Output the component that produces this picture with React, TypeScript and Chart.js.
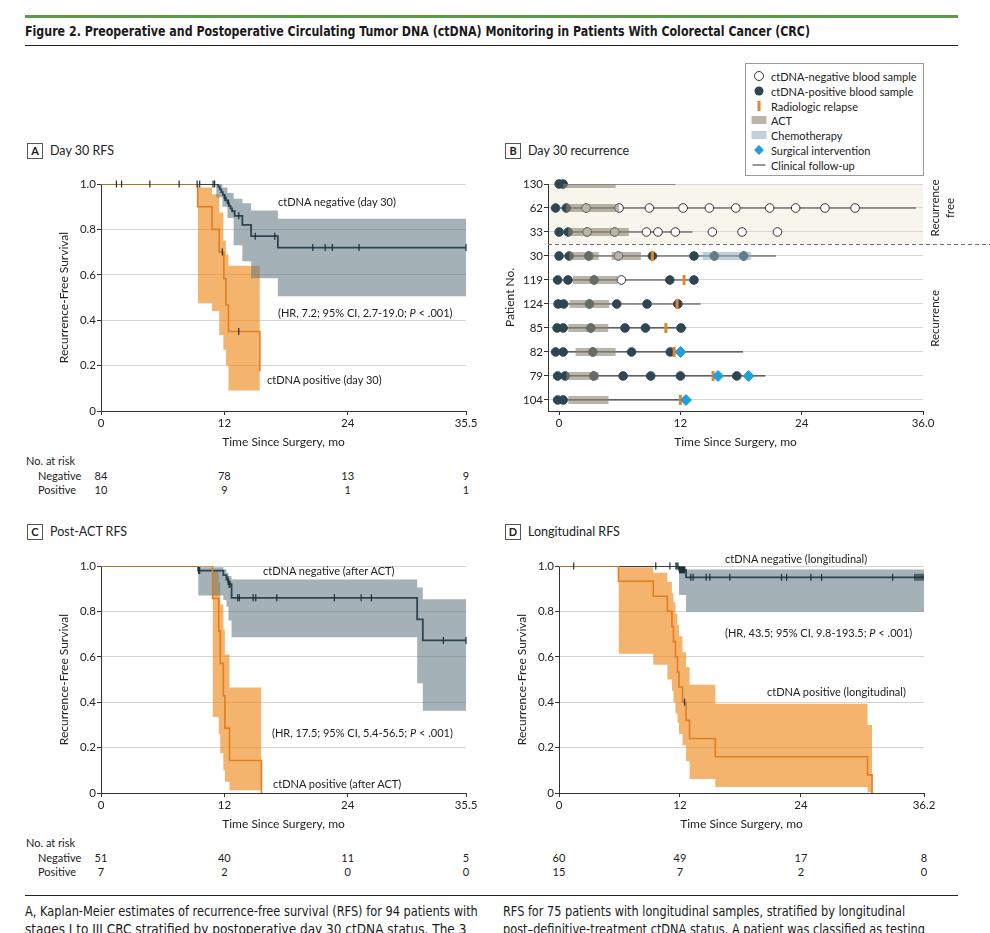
import React, { useEffect, useLayoutEffect, useRef } from 'react';
import { Chart, registerables } from 'chart.js';

Chart.register(...registerables);

const SANS = 'Lato, "Noto Sans", sans-serif';
const NARROW = '"Liberation Sans Narrow", "DejaVu Sans Condensed", sans-serif';
const INK = '#222222';
const AXIS = '#333333';
const NEG_LINE = '#2c4550';
const POS_LINE = '#e07f1f';
const NEG_BAND = 'rgba(90,115,125,0.55)';
const POS_BAND = 'rgba(240,140,30,0.65)';
const CENSOR = '#1f2f36';

Chart.defaults.font.family = SANS;
Chart.defaults.color = INK;

// ---------- Panel A: day 30 RFS ----------
const aNegTime = [0, 11.4, 11.55, 11.7, 11.85, 12.0, 12.15, 12.3, 12.45, 12.6, 12.75, 13.0, 13.75, 14.6, 17.2, 35.5];
const aNegSurv = [1, 0.988, 0.976, 0.964, 0.952, 0.94, 0.928, 0.916, 0.904, 0.892, 0.88, 0.86, 0.82, 0.77, 0.72, 0.72];
const aNegCensor = [1.5, 2.0, 4.75, 7.6, 9.35, 9.6, 10.9, 11.05, 12.05, 12.4, 13.4, 15.0, 16.9, 20.6, 21.8, 22.5, 25.1, 35.5];
const aNegBandTime = [11.2, 11.8, 12.3, 12.9, 13.75, 14.6, 17.2, 35.5];
const aNegUpper = [1.0, 0.985, 0.96, 0.935, 0.915, 0.883, 0.847, 0.847];
const aNegLower = [0.94, 0.9, 0.85, 0.73, 0.66, 0.585, 0.505, 0.505];
const aPosTime = [0, 9.4, 10.8, 11.5, 11.95, 12.15, 12.4, 15.45];
const aPosSurv = [1, 0.9, 0.8, 0.7, 0.583, 0.467, 0.35, 0.175];
const aPosCensor = [11.8, 13.4];
const aPosBandTime = [9.4, 10.8, 11.5, 11.9, 12.15, 12.4, 15.45];
const aPosUpper = [0.985, 0.955, 0.875, 0.75, 0.69, 0.64, 0.64];
const aPosLower = [0.475, 0.44, 0.335, 0.27, 0.2, 0.09, 0.09];
const aXTicks = [0, 12, 24, 35.5];
const aXLabels = ['0', '12', '24', '35.5'];
const aRiskNeg = [84, 78, 13, 9];
const aRiskPos = [10, 9, 1, 1];

// ---------- Panel C: post-ACT RFS ----------
const cNegTime = [0, 9.45, 11.9, 12.2, 12.4, 12.7, 30.75, 31.3, 35.5];
const cNegSurv = [1, 0.98, 0.96, 0.94, 0.92, 0.86, 0.765, 0.672, 0.672];
const cNegCensor = [9.5, 9.6, 12.35, 12.45, 12.55, 13.3, 13.45, 14.8, 15.05, 17.1, 22.7, 25.3, 26.3, 33.3, 35.5];
const cNegBandTime = [9.45, 11.9, 12.2, 12.4, 12.7, 30.75, 31.3, 35.5];
const cNegUpper = [0.995, 0.985, 0.97, 0.955, 0.94, 0.905, 0.853, 0.853];
const cNegLower = [0.87, 0.85, 0.82, 0.76, 0.686, 0.484, 0.362, 0.362];
const cPosTime = [0, 10.85, 11.45, 11.6, 11.9, 12.05, 12.5, 15.6];
const cPosSurv = [1, 0.857, 0.714, 0.571, 0.429, 0.286, 0.143, 0];
const cPosCensor: number[] = [];
const cPosBandTime = [10.85, 11.45, 11.6, 11.9, 12.05, 12.5, 15.6];
const cPosUpper = [0.98, 0.93, 0.83, 0.72, 0.61, 0.465, 0.465];
const cPosLower = [0.335, 0.26, 0.175, 0.1, 0.05, 0.012, 0.012];
const cXTicks = [0, 12, 24, 35.5];
const cXLabels = ['0', '12', '24', '35.5'];
const cRiskNeg = [51, 40, 11, 5];
const cRiskPos = [7, 2, 0, 0];

// ---------- Panel D: longitudinal RFS ----------
const dNegTime = [0, 11.9, 12.6, 36.2];
const dNegSurv = [1, 0.983, 0.95, 0.95];
const dNegCensor = [1.46, 9.6, 11.0, 11.6, 11.7, 11.8, 11.95, 12.05, 12.15, 12.25, 12.35, 12.45, 13.07, 13.3, 14.6, 14.96, 16.94, 22.07, 22.57, 24.98, 26.04, 33.09, 35.3, 35.5, 35.7, 35.9, 36.1];
const dNegBandTime = [11.9, 12.6, 36.2];
const dNegUpper = [0.998, 0.985, 0.985];
const dNegLower = [0.872, 0.798, 0.798];
const dPosTime = [0, 5.9, 9.35, 10.75, 11.2, 11.35, 11.55, 11.75, 11.9, 12.25, 12.6, 12.95, 15.5, 30.6, 31.05];
const dPosSurv = [1, 0.933, 0.867, 0.8, 0.733, 0.667, 0.6, 0.533, 0.467, 0.4, 0.32, 0.24, 0.16, 0.08, 0];
const dPosCensor = [12.45];
const dPosBandTime = [5.9, 9.35, 10.75, 11.2, 11.35, 11.55, 11.75, 11.9, 12.25, 12.6, 12.95, 15.5, 30.6, 31.05];
const dPosUpper = [0.995, 0.97, 0.93, 0.88, 0.84, 0.79, 0.74, 0.69, 0.62, 0.555, 0.477, 0.393, 0.3, 0.3];
const dPosLower = [0.613, 0.565, 0.5, 0.45, 0.4, 0.35, 0.31, 0.26, 0.21, 0.14, 0.062, 0.026, 0.003, 0.003];
const dXTicks = [0, 12, 24, 36.2];
const dXLabels = ['0', '12', '24', '36.2'];
const dRiskNeg = [60, 49, 17, 8];
const dRiskPos = [15, 7, 2, 0];

const yTicks = [0, 0.2, 0.4, 0.6, 0.8, 1.0];
const yLabels = ['0', '0.2', '0.4', '0.6', '0.8', '1.0'];

// ---------- Panel B: day 30 recurrence swimmer plot ----------
const patientIds = ['130', '62', '33', '30', '119', '124', '85', '82', '79', '104'];
const followStart = [0, -0.35, 0, 0, -0.15, -0.1, -0.2, -0.35, -0.15, -0.15];
const followEnd = [11.5, 35.3, 13.2, 21.45, 13.35, 14.0, 12.6, 18.2, 20.4, 12.0];
const posSamples = [
  [0, 0.4],
  [-0.35, 0.72],
  [0, 0.9],
  [0, 1.0, 2.93, 9.23, 13.34, 15.36, 18.26],
  [-0.15, 0.88, 3.46, 10.95, 13.34],
  [-0.1, 0.45, 3.0, 5.7, 8.7, 11.75],
  [-0.2, 0.4, 3.13, 6.52, 8.54, 12.06],
  [-0.35, 0.4, 3.33, 7.17, 11.0],
  [-0.15, 0.6, 3.42, 6.33, 9.06, 12.0, 17.57],
  [-0.15, 0.4],
];
const negSamples = [
  [],
  [2.67, 5.93, 8.93, 12.26, 14.87, 17.48, 20.83, 23.4, 26.3, 29.28],
  [2.77, 5.5, 8.64, 9.78, 11.5, 15.16, 18.1, 21.6],
  [5.87],
  [6.16],
  [], [], [], [], [],
];
const actCourses = [
  [[0.4, 5.6]],
  [[0.7, 5.93]],
  [[0.9, 6.9]],
  [[1.0, 3.9], [5.2, 8.1]],
  [[1.37, 5.84]],
  [[1.04, 4.96]],
  [[0.91, 4.86]],
  [[1.63, 5.6]],
  [[0.72, 3.91]],
  [[0.91, 4.89]],
];
const chemoCourses = [[], [], [], [[14.18, 18.98]], [], [], [], [], [], []];
const relapseTimes = [[], [], [], [9.23], [12.36], [11.67], [10.56], [11.38], [15.23], [12.0]];
const surgeryTimes = [[], [], [], [], [], [], [], [12.0], [15.72, 18.75], [12.55]];
const bXTicks = [0, 12, 24, 36];
const bXLabels = ['0', '12', '24', '36.0'];

// ---------- helpers ----------
const xy = (t: number[], v: number[]) => t.map((x, i) => ({ x, y: v[i] }));
const stepAt = (t: number[], v: number[], x: number) => {
  let y = v[0];
  for (let i = 0; i < t.length; i++) if (t[i] <= x) y = v[i];
  return y;
};

type KM = {
  negTime: number[]; negSurv: number[]; negCensor: number[];
  negBandTime: number[]; negUpper: number[]; negLower: number[];
  posTime: number[]; posSurv: number[]; posCensor: number[];
  posBandTime: number[]; posUpper: number[]; posLower: number[];
  xMax: number; xTicks: number[]; xLabels: string[]; rightPad: number;
};

const tickFont = { family: SANS, size: 11.5 };
const titleFont = { family: SANS, size: 12 };

function kmConfig(k: KM): any {
  const censor = (color: string) => ({
    type: 'line', showLine: false, pointStyle: 'line', pointRotation: 90,
    pointRadius: 3.5, pointBorderWidth: 1.2, pointBorderColor: color, clip: false,
  });
  const band = (color: string) => ({
    type: 'line', stepped: true, pointRadius: 0, borderWidth: 0,
    borderColor: 'rgba(0,0,0,0)', backgroundColor: color,
  });
  return {
    type: 'line',
    data: {
      datasets: [
        { ...censor(CENSOR), order: 0, data: k.posCensor.map((x) => ({ x, y: stepAt(k.posTime, k.posSurv, x) })) },
        { ...censor(CENSOR), order: 1, data: k.negCensor.map((x) => ({ x, y: stepAt(k.negTime, k.negSurv, x) })) },
        { type: 'line', order: 2, stepped: true, pointRadius: 0, borderWidth: 1.6, borderColor: POS_LINE, fill: false, data: xy(k.posTime, k.posSurv) },
        { type: 'line', order: 3, stepped: true, pointRadius: 0, borderWidth: 1.8, borderColor: NEG_LINE, fill: false, data: xy(k.negTime, k.negSurv) },
        { ...band(NEG_BAND), order: 4, fill: '+1', data: xy(k.negBandTime, k.negUpper) },
        { ...band(NEG_BAND), order: 5, fill: false, data: xy(k.negBandTime, k.negLower) },
        { ...band(POS_BAND), order: 6, fill: '+1', data: xy(k.posBandTime, k.posUpper) },
        { ...band(POS_BAND), order: 7, fill: false, data: xy(k.posBandTime, k.posLower) },
      ],
    },
    options: {
      responsive: false, animation: false, devicePixelRatio: 1, events: [],
      layout: { padding: { top: 14, right: k.rightPad, left: 0, bottom: 0 } },
      plugins: { legend: { display: false }, tooltip: { enabled: false } },
      scales: {
        x: {
          type: 'linear', min: 0, max: k.xMax,
          afterBuildTicks: (s: any) => { s.ticks = k.xTicks.map((value) => ({ value })); },
          afterFit: (s: any) => { s.height = 39; },
          ticks: { callback: (_v: any, i: number) => k.xLabels[i], font: tickFont, color: INK, padding: 1, maxRotation: 0, autoSkip: false },
          grid: { drawOnChartArea: false, drawTicks: true, tickLength: 4, tickColor: AXIS },
          border: { display: true, color: AXIS, width: 1 },
          title: { display: true, text: 'Time Since Surgery, mo', font: titleFont, color: INK, padding: { top: 0, bottom: 1 } },
        },
        y: {
          type: 'linear', min: 0, max: 1,
          afterBuildTicks: (s: any) => { s.ticks = yTicks.map((value) => ({ value })); },
          afterFit: (s: any) => { s.width = 81; },
          ticks: { callback: (_v: any, i: number) => yLabels[i], font: tickFont, color: INK, padding: 1 },
          grid: { color: '#d4d4d4', lineWidth: 1, drawTicks: true, tickLength: 4, tickColor: AXIS },
          border: { display: true, color: AXIS, width: 1 },
          title: { display: true, text: 'Recurrence-Free Survival', font: titleFont, color: INK, padding: { top: 37, bottom: 0 } },
        },
      },
    },
  };
}

const rowLines = (starts: number[], ends: number[]) =>
  starts.flatMap((s, row) => [{ x: s, y: row }, { x: ends[row], y: row }, { x: ends[row], y: null }]);
const courseLines = (courses: number[][][]) =>
  courses.flatMap((list, row) => list.flatMap(([a, b]) => [{ x: a, y: row }, { x: b, y: row }, { x: b, y: null }]));
const marks = (lists: number[][]) => lists.flatMap((list, row) => list.map((x) => ({ x, y: row })));

const swimmerZones = {
  id: 'swimmerZones',
  beforeDraw(chart: any) {
    const { ctx, chartArea, scales } = chart;
    const yCut = scales.y.getPixelForValue(2.5);
    ctx.save();
    ctx.fillStyle = '#f7f5ec';
    ctx.fillRect(chartArea.left, chartArea.top, chartArea.right - chartArea.left, yCut - chartArea.top);
    ctx.restore();
  },
  beforeDatasetsDraw(chart: any) {
    const { ctx, chartArea, scales, width } = chart;
    const yCut = Math.round(scales.y.getPixelForValue(2.5)) + 0.5;
    ctx.save();
    ctx.strokeStyle = '#6f6f6f';
    ctx.lineWidth = 1;
    ctx.setLineDash([4, 3]);
    ctx.beginPath();
    ctx.moveTo(chartArea.left, yCut);
    ctx.lineTo(width, yCut);
    ctx.stroke();
    ctx.restore();
  },
  afterDraw(chart: any) {
    const { ctx, chartArea, scales } = chart;
    const put = (text: string, x: number, y: number) => {
      ctx.save();
      ctx.translate(x, y);
      ctx.rotate(-Math.PI / 2);
      ctx.textAlign = 'center';
      ctx.textBaseline = 'middle';
      ctx.fillStyle = INK;
      ctx.font = `11.5px ${SANS}`;
      ctx.fillText(text, 0, 0);
      ctx.restore();
    };
    put('Recurrence', chartArea.right + 12, scales.y.getPixelForValue(1));
    put('free', chartArea.right + 27, scales.y.getPixelForValue(1));
    put('Recurrence', chartArea.right + 12, scales.y.getPixelForValue(5.6));
  },
};

function swimmerConfig(): any {
  return {
    type: 'line',
    data: {
      datasets: [
        { order: 0, showLine: false, clip: false, pointStyle: 'rectRot', pointRadius: 5.5, pointBackgroundColor: '#1fa0da', pointBorderColor: '#1fa0da', pointBorderWidth: 1, data: marks(surgeryTimes) },
        { order: 1, showLine: false, clip: false, pointStyle: 'line', pointRotation: 90, pointRadius: 5, pointBorderWidth: 3, pointBorderColor: '#e0872b', data: marks(relapseTimes) },
        { order: 2, pointRadius: 0, borderWidth: 8, borderCapStyle: 'butt', borderColor: 'rgba(140,170,190,0.55)', spanGaps: false, data: courseLines(chemoCourses) },
        { order: 3, pointRadius: 0, borderWidth: 8, borderCapStyle: 'butt', borderColor: 'rgba(140,132,115,0.6)', spanGaps: false, data: courseLines(actCourses) },
        { order: 4, showLine: false, clip: false, pointStyle: 'circle', pointRadius: 4.3, pointBackgroundColor: '#ffffff', pointBorderColor: '#333333', pointBorderWidth: 1, data: marks(negSamples) },
        { order: 5, showLine: false, clip: false, pointStyle: 'circle', pointRadius: 4.3, pointBackgroundColor: '#2e4652', pointBorderColor: '#2e4652', pointBorderWidth: 1, data: marks(posSamples) },
        { order: 6, pointRadius: 0, borderWidth: 1.2, borderColor: '#3a3a3a', spanGaps: false, data: rowLines(followStart, followEnd) },
      ],
    },
    options: {
      responsive: false, animation: false, devicePixelRatio: 1, events: [],
      layout: { padding: { top: 14, right: 67, left: 0, bottom: 0 } },
      plugins: { legend: { display: false }, tooltip: { enabled: false } },
      scales: {
        x: {
          type: 'linear', min: -1.1, max: 36,
          afterBuildTicks: (s: any) => { s.ticks = bXTicks.map((value) => ({ value })); },
          afterFit: (s: any) => { s.height = 39; },
          ticks: { callback: (_v: any, i: number) => bXLabels[i], font: tickFont, color: INK, padding: 1, maxRotation: 0, autoSkip: false },
          grid: { drawOnChartArea: false, drawTicks: true, tickLength: 4, tickColor: AXIS },
          border: { display: true, color: AXIS, width: 1 },
          title: { display: true, text: 'Time Since Surgery, mo', font: titleFont, color: INK, padding: { top: 0, bottom: 1 } },
        },
        y: {
          type: 'linear', min: 0, max: 9.46, reverse: true,
          afterBuildTicks: (s: any) => { s.ticks = patientIds.map((_p, i) => ({ value: i })); },
          afterFit: (s: any) => { s.width = 70; },
          ticks: { callback: (_v: any, i: number) => patientIds[i], font: tickFont, color: INK, padding: 1 },
          grid: { color: '#d8d8d8', lineWidth: 1, drawTicks: true, tickLength: 4, tickColor: AXIS },
          border: { display: true, color: AXIS, width: 1 },
          title: { display: true, text: 'Patient No.', font: titleFont, color: INK, padding: { top: 25, bottom: 0 } },
        },
      },
    },
    plugins: [swimmerZones],
  };
}

function ChartCanvas({ left, top, width, height, make }: { left: number; top: number; width: number; height: number; make: () => any }) {
  const ref = useRef<HTMLCanvasElement>(null);
  useEffect(() => {
    const chart = new Chart(ref.current as HTMLCanvasElement, make());
    return () => chart.destroy();
  }, []);
  return <canvas ref={ref} width={width} height={height} style={{ position: 'absolute', left, top, width, height }} />;
}

const text = (s: React.CSSProperties = {}): React.CSSProperties => ({
  position: 'absolute', whiteSpace: 'nowrap', fontFamily: SANS, color: INK, lineHeight: 1, ...s,
});

// A single line of condensed text squeezed horizontally to a set width.
function FitLine({ left, y, width, size, weight = 400, children }: { left: number; y: number; width: number; size: number; weight?: number; children: React.ReactNode }) {
  const ref = useRef<HTMLDivElement>(null);
  useLayoutEffect(() => {
    const el = ref.current;
    if (!el) return;
    const w = el.scrollWidth;
    const k = w > 0 ? width / w : 1;
    el.style.transform = `translateY(-50%) scaleX(${k})`;
  }, []);
  return (
    <div ref={ref} style={text({ left, top: y, transform: 'translateY(-50%)', transformOrigin: 'left center', fontFamily: NARROW, fontSize: size, fontWeight: weight, color: '#1a1a1a' })}>
      {children}
    </div>
  );
}

function PanelTag({ left, top, letter, title }: { left: number; top: number; letter: string; title: string }) {
  return (
    <>
      <div style={{ position: 'absolute', left, top, width: 14, height: 14, border: '1px solid #555', fontFamily: SANS, fontWeight: 700, fontSize: 11, lineHeight: '14px', textAlign: 'center', color: INK }}>{letter}</div>
      <div style={text({ left: left + 23, top: top + 8, transform: 'translateY(-50%)', fontSize: 12.5 })}>{title}</div>
    </>
  );
}

function Note({ left, y, children, size = 11 }: { left: number; y: number; children: React.ReactNode; size?: number }) {
  return <div style={text({ left, top: y, transform: 'translateY(-50%)', fontSize: size })}>{children}</div>;
}

function RiskTable({ x0, x1, xMax, ticks, neg, pos, y, showHead }: { x0: number; x1: number; xMax: number; ticks: number[]; neg: number[]; pos: number[]; y: number; showHead: boolean }) {
  const px = (t: number) => x0 + (t / xMax) * (x1 - x0);
  return (
    <>
      {showHead && <Note left={26} y={y - 15}>{'No. at risk'}</Note>}
      {showHead && <Note left={38} y={y}>Negative</Note>}
      {showHead && <Note left={38} y={y + 14}>Positive</Note>}
      {ticks.map((t, i) => (
        <React.Fragment key={i}>
          <div style={text({ left: px(t), top: y, transform: 'translate(-50%,-50%)', fontSize: 11 })}>{neg[i]}</div>
          <div style={text({ left: px(t), top: y + 14, transform: 'translate(-50%,-50%)', fontSize: 11 })}>{pos[i]}</div>
        </React.Fragment>
      ))}
    </>
  );
}

function LegendGlyph({ kind }: { kind: string }) {
  const base: React.CSSProperties = { position: 'absolute', left: '50%', top: '50%', transform: 'translate(-50%,-50%)' };
  if (kind === 'neg') return <span style={{ ...base, width: 8, height: 8, borderRadius: '50%', border: '1px solid #333', background: '#fff' }} />;
  if (kind === 'pos') return <span style={{ ...base, width: 9, height: 9, borderRadius: '50%', background: '#2e4652' }} />;
  if (kind === 'relapse') return <span style={{ ...base, width: 3, height: 10, background: '#e0872b' }} />;
  if (kind === 'act') return <span style={{ ...base, width: 15, height: 8, background: 'rgb(186,181,171)' }} />;
  if (kind === 'chemo') return <span style={{ ...base, width: 15, height: 8, background: 'rgb(192,208,219)' }} />;
  if (kind === 'surgery') return <span style={{ ...base, width: 7, height: 7, background: '#1fa0da', transform: 'translate(-50%,-50%) rotate(45deg)' }} />;
  return <span style={{ ...base, width: 13, height: 1, background: '#333' }} />;
}

const legendItems = [
  ['neg', 'ctDNA-negative blood sample'],
  ['pos', 'ctDNA-positive blood sample'],
  ['relapse', 'Radiologic relapse'],
  ['act', 'ACT'],
  ['chemo', 'Chemotherapy'],
  ['surgery', 'Surgical intervention'],
  ['line', 'Clinical follow-up'],
];

function Legend() {
  return (
    <div style={{ position: 'absolute', left: 745, top: 63, width: 177, height: 111, border: '1px solid #9a9a9a', background: '#fff' }}>
      {legendItems.map(([kind, label], i) => (
        <div key={kind} style={{ position: 'absolute', left: 0, top: 12 + i * 14.8, width: 177 }}>
          <div style={{ position: 'absolute', left: 5, top: -7, width: 16, height: 14 }}><LegendGlyph kind={kind} /></div>
          <div style={text({ left: 25, top: 0, transform: 'translateY(-50%)', fontSize: 11 })}>{label}</div>
        </div>
      ))}
    </div>
  );
}

const captionLeft = [
  'A, Kaplan-Meier estimates of recurrence-free survival (RFS) for 94 patients with',
  'stages I to III CRC stratified by postoperative day 30 ctDNA status. The 3',
];
const captionLeftWidth = [453, 441];
const captionRight = [
  'RFS for 75 patients with longitudinal samples, stratified by longitudinal',
  'post–definitive-treatment ctDNA status. A patient was classified as testing',
];
const captionRightWidth = [402, 422];

export default function App() {
  const kmA: KM = { negTime: aNegTime, negSurv: aNegSurv, negCensor: aNegCensor, negBandTime: aNegBandTime, negUpper: aNegUpper, negLower: aNegLower, posTime: aPosTime, posSurv: aPosSurv, posCensor: aPosCensor, posBandTime: aPosBandTime, posUpper: aPosUpper, posLower: aPosLower, xMax: 35.5, xTicks: aXTicks, xLabels: aXLabels, rightPad: 24 };
  const kmC: KM = { negTime: cNegTime, negSurv: cNegSurv, negCensor: cNegCensor, negBandTime: cNegBandTime, negUpper: cNegUpper, negLower: cNegLower, posTime: cPosTime, posSurv: cPosSurv, posCensor: cPosCensor, posBandTime: cPosBandTime, posUpper: cPosUpper, posLower: cPosLower, xMax: 35.5, xTicks: cXTicks, xLabels: cXLabels, rightPad: 24 };
  const kmD: KM = { negTime: dNegTime, negSurv: dNegSurv, negCensor: dNegCensor, negBandTime: dNegBandTime, negUpper: dNegUpper, negLower: dNegLower, posTime: dPosTime, posSurv: dPosSurv, posCensor: dPosCensor, posBandTime: dPosBandTime, posUpper: dPosUpper, posLower: dPosLower, xMax: 36.2, xTicks: dXTicks, xLabels: dXLabels, rightPad: 44 };

  return (
    <div style={{ position: 'absolute', left: 0, top: 0, width: 990, height: 933, background: '#fff', overflow: 'hidden' }}>
      {/* header */}
      <div style={{ position: 'absolute', left: 25, top: 15, width: 933, height: 3, background: '#5c9a4c' }} />
      <FitLine left={25} y={31} width={785} size={14.5} weight={700}>
        Figure 2. Preoperative and Postoperative Circulating Tumor DNA (ctDNA) Monitoring in Patients With Colorectal Cancer (CRC)
      </FitLine>
      <div style={{ position: 'absolute', left: 25, top: 45, width: 933, height: 1, background: '#222' }} />

      {/* panel tags */}
      <PanelTag left={27} top={143} letter="A" title="Day 30 RFS" />
      <PanelTag left={505} top={143} letter="B" title="Day 30 recurrence" />
      <PanelTag left={27} top={524} letter="C" title="Post-ACT RFS" />
      <PanelTag left={505} top={524} letter="D" title="Longitudinal RFS" />

      <Legend />

      <ChartCanvas left={20} top={170} width={470} height={280} make={() => kmConfig(kmA)} />
      <ChartCanvas left={478} top={170} width={512} height={280} make={swimmerConfig} />
      <ChartCanvas left={20} top={552} width={470} height={280} make={() => kmConfig(kmC)} />
      <ChartCanvas left={478} top={552} width={490} height={280} make={() => kmConfig(kmD)} />

      {/* curve annotations */}
      <Note left={278} y={201}>ctDNA negative (day 30)</Note>
      <Note left={278} y={312}>(HR, 7.2; 95% CI, 2.7-19.0; <i>P</i> &lt; .001)</Note>
      <Note left={267} y={379}>ctDNA positive (day 30)</Note>
      <Note left={263} y={570}>ctDNA negative (after ACT)</Note>
      <Note left={272} y={732}>(HR, 17.5; 95% CI, 5.4-56.5; <i>P</i> &lt; .001)</Note>
      <Note left={273} y={783}>ctDNA positive (after ACT)</Note>
      <Note left={725} y={558}>ctDNA negative (longitudinal)</Note>
      <Note left={725} y={632}>(HR, 43.5; 95% CI, 9.8-193.5; <i>P</i> &lt; .001)</Note>
      <Note left={767} y={691}>ctDNA positive (longitudinal)</Note>

      {/* numbers at risk */}
      <RiskTable x0={101} x1={466} xMax={35.5} ticks={aXTicks} neg={aRiskNeg} pos={aRiskPos} y={475} showHead />
      <RiskTable x0={101} x1={466} xMax={35.5} ticks={cXTicks} neg={cRiskNeg} pos={cRiskPos} y={857} showHead />
      <RiskTable x0={559} x1={924} xMax={36.2} ticks={dXTicks} neg={dRiskNeg} pos={dRiskPos} y={857} showHead={false} />

      {/* caption */}
      <div style={{ position: 'absolute', left: 25, top: 895, width: 933, height: 1, background: '#222' }} />
      {captionLeft.map((line, i) => (
        <FitLine key={'l' + i} left={25} y={912 + i * 18} width={captionLeftWidth[i]} size={13.5}>{line}</FitLine>
      ))}
      {captionRight.map((line, i) => (
        <FitLine key={'r' + i} left={503} y={912 + i * 18} width={captionRightWidth[i]} size={13.5}>{line}</FitLine>
      ))}
    </div>
  );
}
